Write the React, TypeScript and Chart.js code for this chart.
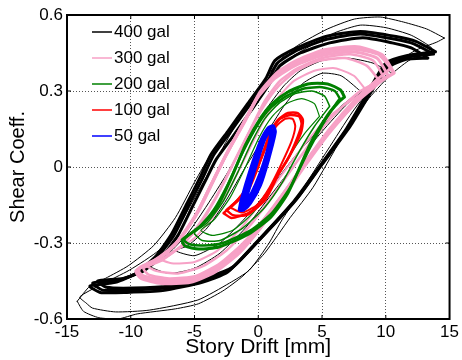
import React, { useEffect, useRef } from 'react';
import { Chart, registerables } from 'chart.js';
Chart.register(...registerables);

type Pt = [number, number];

const seriesNames = ['400 gal', '300 gal', '200 gal', '100 gal', '50 gal'];
const seriesColors = ['#000000', '#F7A1C6', '#008000', '#FF0000', '#0000FF'];
const xTicks = [-15, -10, -5, 0, 5, 10, 15];
const xTickLabels = ['-15', '-10', '-5', '0', '5', '10', '15'];
const yTicks = [-0.6, -0.3, 0, 0.3, 0.6];
const yTickLabels = ['-0.6', '-0.3', '0', '0.3', '0.6'];
const xTitle = 'Story Drift [mm]';
const yTitle = 'Shear Coeff.';

// ---- 400 gal cycles ----
const gal400Main: Pt[] = [[13.75,0.446],[12.2,0.486],[10.64,0.505],[8.0,0.525],[5.44,0.505],[3.1,0.462],[1.5,0.41],[0.78,0.343],[-0.78,0.237],[-2.25,0.134],[-3.5,0.047],[-4.43,-0.051],[-5.44,-0.15],[-6.6,-0.268],[-7.77,-0.347],[-9.32,-0.414],[-10.88,-0.446],[-12.98,-0.458],[-12.2,-0.486],[-10.1,-0.486],[-7.3,-0.478],[-4.2,-0.446],[-2.25,-0.407],[0.08,-0.288],[2.95,-0.13],[4.82,0],[7.0,0.154],[8.78,0.30],[10.1,0.403],[11.65,0.434],[13.75,0.446]];
const gal400B: Pt[] = [[13.3,0.43],[12.0,0.47],[10.5,0.49],[8.2,0.51],[5.6,0.49],[3.3,0.45],[1.7,0.40],[0.9,0.33],[-0.6,0.22],[-2.0,0.12],[-3.3,0.03],[-4.2,-0.06],[-5.2,-0.16],[-6.3,-0.27],[-7.5,-0.35],[-9.0,-0.41],[-10.6,-0.44],[-12.6,-0.45],[-11.9,-0.475],[-9.8,-0.478],[-7.0,-0.47],[-4.0,-0.435],[-2.0,-0.395],[0.3,-0.275],[3.1,-0.12],[5.0,0.01],[7.2,0.16],[8.9,0.30],[10.2,0.395],[11.6,0.425],[13.3,0.43]];
const gal400C: Pt[] = [[13.9,0.455],[12.4,0.495],[10.8,0.515],[8.0,0.535],[5.3,0.515],[3.0,0.47],[1.3,0.42],[0.6,0.35],[-0.9,0.245],[-2.4,0.14],[-3.7,0.05],[-4.6,-0.045],[-5.6,-0.145],[-6.8,-0.265],[-8.0,-0.35],[-9.6,-0.42],[-11.2,-0.455],[-13.2,-0.47],[-12.4,-0.495],[-10.3,-0.495],[-7.5,-0.488],[-4.4,-0.455],[-2.4,-0.415],[-0.1,-0.295],[2.8,-0.135],[4.7,-0.005],[6.9,0.15],[8.6,0.295],[10.0,0.41],[11.7,0.44],[13.9,0.455]];
const gal400Outer: Pt[] = [[14.6,0.509],[13.2,0.545],[11.4,0.572],[9.56,0.592],[7.54,0.584],[5.44,0.545],[3.1,0.48],[1.55,0.415],[0,0.304],[-1.55,0.186],[-3.1,0.047],[-4.66,-0.091],[-6.2,-0.229],[-7.77,-0.328],[-10.1,-0.407],[-12.4,-0.466],[-14.0,-0.513],[-13.5,-0.537],[-13.0,-0.557],[-11.2,-0.572],[-8.55,-0.565],[-4.74,-0.525],[-2.25,-0.458],[-0.7,-0.407],[0.85,-0.3],[1.86,-0.209],[3.42,-0.091],[5.44,0.067],[7.38,0.217],[9.32,0.343],[10.9,0.415],[12.4,0.462],[14.0,0.493],[14.6,0.509]];
const gal400Low: Pt[] = [[-14.2,-0.53],[-13.7,-0.57],[-12.5,-0.595],[-11.0,-0.6],[-9.5,-0.58],[-6.5,-0.56],[-4.7,-0.54],[-2.8,-0.49],[-1.2,-0.43],[0.5,-0.34],[2.5,-0.2],[4.3,-0.08],[6.5,0.11],[8.5,0.26],[10.3,0.36],[11.8,0.42],[13.2,0.455],[13.6,0.47],[12.0,0.52],[10.0,0.55],[8.0,0.56],[6.0,0.53],[4.5,0.49],[2.5,0.43],[1.0,0.36],[-0.5,0.27],[-2,0.17],[-3.6,0.06],[-5.0,-0.06],[-6.5,-0.2],[-8.2,-0.31],[-10.2,-0.39],[-12.0,-0.44],[-13.2,-0.47],[-14.2,-0.53]];
const gal400Mid: Pt[] = [[10.5,0.37],[9.0,0.41],[7.0,0.43],[5.0,0.42],[3.3,0.38],[2.0,0.32],[0.5,0.22],[-1.0,0.1],[-2.5,-0.03],[-4.0,-0.15],[-5.5,-0.26],[-7.0,-0.34],[-8.5,-0.39],[-7.0,-0.42],[-5.0,-0.4],[-3.0,-0.34],[-1.0,-0.24],[1.0,-0.11],[3.0,0.02],[5.0,0.14],[7.0,0.25],[9.0,0.33],[10.5,0.37]];
const gal400Small: Pt[] = [[8.0,0.3],[6.5,0.36],[5.0,0.37],[3.5,0.33],[2.0,0.24],[0.5,0.12],[-1.0,0.0],[-2.5,-0.13],[-4.0,-0.24],[-5.5,-0.31],[-6.5,-0.33],[-5.0,-0.35],[-3.0,-0.3],[-1.0,-0.2],[1.0,-0.08],[3.0,0.05],[5.0,0.16],[6.5,0.24],[8.0,0.3]];

// ---- 300 gal cycles ----
const gal300Main: Pt[] = [[10.64,0.371],[9.71,0.442],[7.77,0.474],[5.2,0.462],[3.1,0.422],[1.55,0.375],[0.16,0.296],[-1.0,0.186],[-2.33,0.067],[-3.5,-0.051],[-4.66,-0.17],[-6.2,-0.288],[-7.77,-0.359],[-9.32,-0.399],[-9.32,-0.426],[-7.77,-0.45],[-5.44,-0.45],[-3.5,-0.407],[-1.55,-0.328],[0.16,-0.233],[1.94,-0.11],[3.5,0.004],[5.44,0.134],[7.38,0.245],[9.17,0.324],[10.64,0.371]];
const gal300B: Pt[] = [[10.4,0.39],[9.4,0.445],[7.5,0.465],[5.0,0.45],[3.0,0.41],[1.4,0.36],[0.0,0.28],[-1.2,0.17],[-2.5,0.05],[-3.7,-0.07],[-4.9,-0.19],[-6.4,-0.3],[-8.0,-0.37],[-9.5,-0.405],[-9.0,-0.43],[-7.4,-0.445],[-5.2,-0.44],[-3.3,-0.395],[-1.4,-0.32],[0.3,-0.22],[2.1,-0.095],[3.7,0.02],[5.6,0.15],[7.5,0.26],[9.2,0.34],[10.4,0.39]];
const gal300C: Pt[] = [[9.5,0.34],[8.5,0.4],[6.8,0.43],[4.8,0.42],[3.0,0.38],[1.6,0.32],[0.3,0.23],[-0.9,0.12],[-2.1,0.0],[-3.3,-0.12],[-4.6,-0.23],[-6.0,-0.31],[-7.4,-0.36],[-8.7,-0.39],[-8.0,-0.41],[-6.3,-0.42],[-4.3,-0.39],[-2.5,-0.33],[-0.8,-0.24],[0.9,-0.13],[2.6,-0.01],[4.3,0.11],[6.2,0.22],[8.0,0.3],[9.5,0.34]];
const gal300D: Pt[] = [[8.5,0.3],[7.5,0.36],[6.0,0.39],[4.4,0.38],[2.8,0.34],[1.5,0.27],[0.3,0.17],[-0.9,0.05],[-2.2,-0.08],[-3.6,-0.2],[-5.0,-0.28],[-6.5,-0.33],[-7.8,-0.36],[-6.8,-0.38],[-5.0,-0.375],[-3.2,-0.33],[-1.5,-0.25],[0.2,-0.14],[2.0,-0.02],[3.8,0.1],[5.6,0.2],[7.2,0.26],[8.5,0.3]];
const gal300E: Pt[] = [[10.2,0.36],[9.3,0.43],[7.4,0.455],[5.0,0.44],[2.9,0.4],[1.3,0.35],[-0.1,0.27],[-1.3,0.16],[-2.6,0.04],[-3.8,-0.08],[-5.0,-0.2],[-6.6,-0.31],[-8.2,-0.37],[-9.6,-0.41],[-9.2,-0.44],[-7.6,-0.46],[-5.3,-0.455],[-3.4,-0.415],[-1.5,-0.34],[0.2,-0.24],[2.0,-0.115],[3.6,0.0],[5.5,0.13],[7.4,0.24],[9.0,0.32],[10.2,0.36]];
const gal300F: Pt[] = [[9.9,0.35],[9.0,0.42],[7.2,0.445],[5.0,0.43],[3.1,0.39],[1.7,0.34],[0.5,0.26],[-0.6,0.15],[-1.8,0.03],[-3.0,-0.09],[-4.3,-0.2],[-5.8,-0.3],[-7.6,-0.37],[-9.0,-0.4],[-8.6,-0.425],[-7.0,-0.44],[-4.9,-0.43],[-3.0,-0.38],[-1.2,-0.3],[0.5,-0.2],[2.3,-0.08],[4.0,0.04],[5.8,0.15],[7.6,0.25],[9.0,0.31],[9.9,0.35]];

// ---- 200 gal cycles ----
const gal200Main: Pt[] = [[6.76,0.276],[6.45,0.304],[5.44,0.328],[3.89,0.328],[2.33,0.296],[1.17,0.253],[0.23,0.197],[-1.0,0.087],[-2.18,-0.051],[-3.26,-0.162],[-4.43,-0.229],[-5.44,-0.268],[-5.98,-0.288],[-5.75,-0.312],[-4.66,-0.324],[-3.1,-0.316],[-0.78,-0.265],[1.0,-0.197],[2.33,-0.103],[4.12,0.095],[5.44,0.205],[6.37,0.26],[6.76,0.276]];
const gal200B: Pt[] = [[6.4,0.27],[6.0,0.3],[5.0,0.315],[3.6,0.31],[2.2,0.28],[1.0,0.235],[0.0,0.17],[-1.2,0.06],[-2.4,-0.07],[-3.5,-0.17],[-4.6,-0.235],[-5.5,-0.27],[-5.8,-0.29],[-5.4,-0.305],[-4.3,-0.31],[-2.8,-0.3],[-0.6,-0.25],[1.1,-0.18],[2.5,-0.08],[4.1,0.08],[5.3,0.19],[6.1,0.25],[6.4,0.27]];
const gal200C: Pt[] = [[5.6,0.24],[5.2,0.28],[4.2,0.3],[2.9,0.29],[1.6,0.25],[0.5,0.19],[-0.5,0.1],[-1.6,-0.02],[-2.8,-0.14],[-4.0,-0.22],[-5.0,-0.26],[-4.4,-0.29],[-3.0,-0.29],[-1.2,-0.24],[0.5,-0.16],[1.9,-0.06],[3.2,0.06],[4.4,0.16],[5.6,0.24]];
const gal200D: Pt[] = [[4.8,0.2],[4.4,0.25],[3.4,0.27],[2.2,0.25],[1.1,0.2],[0.1,0.12],[-1.0,0.0],[-2.2,-0.12],[-3.5,-0.21],[-4.5,-0.25],[-3.6,-0.27],[-2.0,-0.25],[-0.4,-0.18],[1.0,-0.08],[2.4,0.04],[3.6,0.13],[4.8,0.2]];

// ---- 100 gal cycles ----
const gal100Main: Pt[] = [[-2.72,-0.182],[-1.79,-0.142],[-0.78,-0.091],[-0.16,-0.02],[0.39,0.059],[0.93,0.134],[1.55,0.186],[2.33,0.213],[3.1,0.213],[3.5,0.186],[3.34,0.134],[2.49,0.047],[1.55,-0.032],[0.54,-0.13],[-0.78,-0.182],[-2.1,-0.201],[-2.72,-0.182]];
const gal100B: Pt[] = [[-2.5,-0.17],[-1.6,-0.13],[-0.7,-0.07],[-0.05,0.0],[0.5,0.07],[1.0,0.14],[1.7,0.19],[2.5,0.205],[3.2,0.2],[3.4,0.17],[3.1,0.12],[2.3,0.03],[1.3,-0.05],[0.3,-0.14],[-0.9,-0.19],[-2.0,-0.19],[-2.5,-0.17]];
const gal100C: Pt[] = [[-2.2,-0.16],[-1.3,-0.11],[-0.5,-0.05],[0.2,0.03],[0.8,0.1],[1.4,0.16],[2.1,0.19],[2.7,0.19],[2.9,0.16],[2.6,0.1],[1.8,0.01],[0.9,-0.08],[-0.1,-0.15],[-1.3,-0.18],[-2.2,-0.16]];

// ---- 50 gal cycles ----
const gal50Main: Pt[] = [[-1.48,-0.17],[-1.32,-0.13],[-0.62,-0.012],[0.16,0.099],[0.78,0.154],[1.17,0.162],[1.32,0.138],[0.78,0.028],[0.16,-0.071],[-0.62,-0.142],[-1.17,-0.17],[-1.48,-0.17]];
const gal50B: Pt[] = [[-1.3,-0.16],[-1.0,-0.1],[-0.4,0.0],[0.3,0.1],[0.9,0.15],[1.1,0.14],[0.7,0.05],[0.1,-0.05],[-0.6,-0.13],[-1.3,-0.16]];
const gal50C: Pt[] = [[-1.1,-0.15],[-0.7,-0.08],[-0.1,0.02],[0.5,0.11],[1.0,0.15],[0.9,0.1],[0.4,0.01],[-0.2,-0.07],[-0.8,-0.13],[-1.1,-0.15]];

const seriesLoops: Pt[][][] = [
  [gal400Outer, gal400Low, gal400Mid, gal400Small, gal400Main, gal400B, gal400C],
  [gal300Main, gal300E, gal300F, gal300B, gal300C, gal300D],
  [gal200Main, gal200B, gal200C, gal200D],
  [gal100Main, gal100B, gal100C],
  [gal50Main, gal50B, gal50C],
];
const seriesWidths: number[][] = [
  [1, 1, 1, 1, 3, 3, 3],
  [3.5, 3, 2.5, 3, 2.5, 2],
  [3, 2.5, 1.5, 1.2],
  [2.5, 2.5, 2],
  [3.5, 3.5, 3.5],
];

const FONT = "'Liberation Sans', Arial, Helvetica, sans-serif";

export default function App() {
  const ref = useRef<HTMLCanvasElement>(null);
  useEffect(() => {
    if (!ref.current) return;
    const datasets: any[] = [];
    seriesLoops.forEach((loops, s) => {
      loops.forEach((loop, k) => {
        datasets.push({
          label: seriesNames[s],
          data: loop.map(([x, y]) => ({ x, y })),
          showLine: true,
          borderColor: seriesColors[s],
          backgroundColor: seriesColors[s],
          borderWidth: seriesWidths[s][k],
          pointRadius: 0,
          tension: 0.2,
          fill: false,
          order: 10 - s,
          borderJoinStyle: 'round',
          borderCapStyle: 'round',
        });
      });
    });
    const framePlugin = {
      id: 'frame',
      afterDraw(chart: any) {
        const { ctx, chartArea: a, scales } = chart;
        ctx.save();
        ctx.strokeStyle = '#000';
        ctx.lineWidth = 1;
        ctx.beginPath();
        xTicks.forEach((v) => {
          const px = scales.x.getPixelForValue(v);
          ctx.moveTo(px, a.bottom); ctx.lineTo(px, a.bottom - 4);
          ctx.moveTo(px, a.top); ctx.lineTo(px, a.top + 4);
        });
        yTicks.forEach((v) => {
          const py = scales.y.getPixelForValue(v);
          ctx.moveTo(a.left, py); ctx.lineTo(a.left + 4, py);
          ctx.moveTo(a.right, py); ctx.lineTo(a.right - 4, py);
        });
        ctx.stroke();
        ctx.lineWidth = 2;
        ctx.strokeRect(a.left, a.top, a.right - a.left, a.bottom - a.top);
        // legend
        ctx.font = `17px ${FONT}`;
        ctx.textBaseline = 'middle';
        ctx.textAlign = 'left';
        seriesNames.forEach((name, i) => {
          const y = a.top + 17 + i * 26;
          ctx.strokeStyle = seriesColors[i];
          ctx.lineWidth = 1.5;
          ctx.beginPath();
          ctx.moveTo(a.left + 25, y);
          ctx.lineTo(a.left + 45, y);
          ctx.stroke();
          ctx.fillStyle = '#000';
          ctx.fillText(name, a.left + 47, y);
        });
        ctx.restore();
      },
    };
    const chart = new Chart(ref.current, {
      type: 'scatter',
      data: { datasets },
      options: {
        animation: false,
        responsive: false,
        maintainAspectRatio: false,
        devicePixelRatio: 1,
        layout: { padding: { left: 0, right: 9, top: 15, bottom: 0 } },
        plugins: { legend: { display: false }, tooltip: { enabled: false } },
        scales: {
          x: {
            type: 'linear',
            min: -15,
            max: 15,
            afterBuildTicks: (scale: any) => { scale.ticks = xTicks.map((v) => ({ value: v })); },
            afterFit: (scale: any) => { scale.height = 41; },
            ticks: {
              callback: (v: any) => { const i = xTicks.indexOf(Number(v)); return i >= 0 ? xTickLabels[i] : ''; },
              font: { family: FONT, size: 17 },
              color: '#000',
              padding: 3,
              maxRotation: 0,
            },
            grid: { color: '#555', lineWidth: 1, drawTicks: false },
            border: { display: false, dash: [1, 2] },
            title: { display: true, text: xTitle, font: { family: FONT, size: 21 }, color: '#000', padding: 0 },
          },
          y: {
            type: 'linear',
            min: -0.6,
            max: 0.6,
            afterBuildTicks: (scale: any) => { scale.ticks = yTicks.map((v) => ({ value: v })); },
            afterFit: (scale: any) => { scale.width = 67; },
            ticks: {
              callback: (v: any) => { const i = yTicks.findIndex((t) => Math.abs(t - Number(v)) < 1e-9); return i >= 0 ? yTickLabels[i] : ''; },
              font: { family: FONT, size: 17 },
              color: '#000',
              padding: 4,
            },
            grid: { color: '#555', lineWidth: 1, drawTicks: false },
            border: { display: false, dash: [1, 2] },
            title: { display: true, text: yTitle, font: { family: FONT, size: 20 }, color: '#000', padding: { top: 6, bottom: 0 } },
          },
        },
      },
      plugins: [framePlugin],
    });
    return () => chart.destroy();
  }, []);
  return (
    <div style={{ position: 'absolute', left: 0, top: 0, width: 462, height: 360, background: '#fff' }}>
      <canvas ref={ref} width={462} height={360} style={{ display: 'block', width: 462, height: 360 }} />
    </div>
  );
}
